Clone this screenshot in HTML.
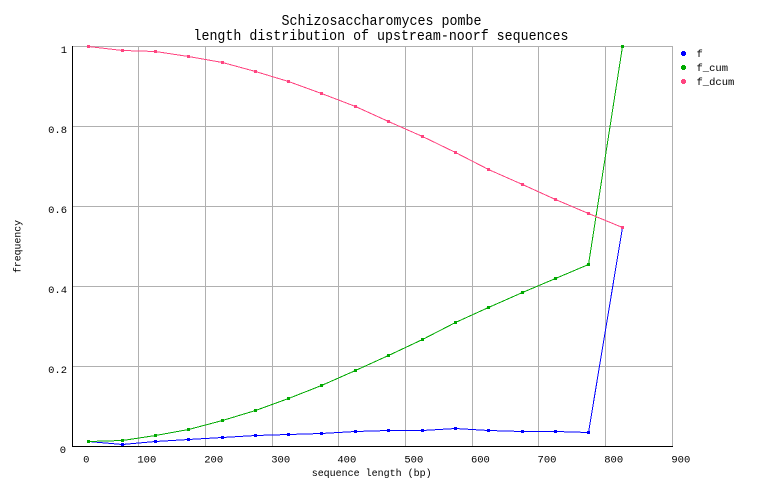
<!DOCTYPE html>
<html><head><meta charset="utf-8"><style>
html,body{margin:0;padding:0;background:#fff;}
svg{display:block;}
text{font-family:"Liberation Mono",monospace;fill:#000;}
</style></head><body>
<svg width="762" height="498" viewBox="0 0 762 498" xmlns="http://www.w3.org/2000/svg">
<rect width="762" height="498" fill="#fff"/>
<g shape-rendering="crispEdges" stroke="#b0b0b0" stroke-width="1" fill="none">
<line x1="72" y1="46.5" x2="673" y2="46.5"/>
<line x1="72" y1="126.5" x2="673" y2="126.5"/>
<line x1="72" y1="206.5" x2="673" y2="206.5"/>
<line x1="72" y1="286.5" x2="673" y2="286.5"/>
<line x1="72" y1="366.5" x2="673" y2="366.5"/>
<line x1="138.5" y1="46" x2="138.5" y2="446"/>
<line x1="205.5" y1="46" x2="205.5" y2="446"/>
<line x1="272.5" y1="46" x2="272.5" y2="446"/>
<line x1="338.5" y1="46" x2="338.5" y2="446"/>
<line x1="405.5" y1="46" x2="405.5" y2="446"/>
<line x1="472.5" y1="46" x2="472.5" y2="446"/>
<line x1="538.5" y1="46" x2="538.5" y2="446"/>
<line x1="605.5" y1="46" x2="605.5" y2="446"/>
<line x1="672.5" y1="46" x2="672.5" y2="447"/>
</g>
<g shape-rendering="crispEdges" stroke="#000" stroke-width="1">
<line x1="72.5" y1="46" x2="72.5" y2="447"/>
<line x1="72" y1="446.5" x2="673" y2="446.5"/>
</g>

<!-- f (blue) -->
<polyline shape-rendering="crispEdges" fill="none" stroke="#0000ff" stroke-width="1" points="88.5,441.5 122.5,444.5 155.5,441.5 188.5,439.5 222.5,437.5 255.5,435.5 288.5,434.5 321.5,433.5 355.5,431.5 388.5,430.5 422.5,430.5 455.5,428.5 488.5,430.5 522.5,431.5 555.5,431.5 588.5,432.5 622.5,227.5"/>
<g fill="#0000ff" shape-rendering="crispEdges">
<rect x="87" y="440" width="3" height="3"/><rect x="121" y="443" width="3" height="3"/><rect x="154" y="440" width="3" height="3"/><rect x="187" y="438" width="3" height="3"/><rect x="221" y="436" width="3" height="3"/><rect x="254" y="434" width="3" height="3"/><rect x="287" y="433" width="3" height="3"/><rect x="320" y="432" width="3" height="3"/><rect x="354" y="430" width="3" height="3"/><rect x="387" y="429" width="3" height="3"/><rect x="421" y="429" width="3" height="3"/><rect x="454" y="427" width="3" height="3"/><rect x="487" y="429" width="3" height="3"/><rect x="521" y="430" width="3" height="3"/><rect x="554" y="430" width="3" height="3"/><rect x="587" y="431" width="3" height="3"/><rect x="621" y="226" width="3" height="3"/>
</g>

<!-- f_cum (green) -->
<polyline shape-rendering="crispEdges" fill="none" stroke="#00aa00" stroke-width="1" points="88.5,441.5 122.5,440.5 155.5,435.5 188.5,429.5 222.5,420.5 255.5,410.5 288.5,398.5 321.5,385.5 355.5,370.5 388.5,355.5 422.5,339.5 455.5,322.5 488.5,307.5 522.5,292.5 555.5,278.5 588.5,264.5 622.5,46.5"/>
<g fill="#00aa00" shape-rendering="crispEdges">
<rect x="87" y="440" width="3" height="3"/><rect x="121" y="439" width="3" height="3"/><rect x="154" y="434" width="3" height="3"/><rect x="187" y="428" width="3" height="3"/><rect x="221" y="419" width="3" height="3"/><rect x="254" y="409" width="3" height="3"/><rect x="287" y="397" width="3" height="3"/><rect x="320" y="384" width="3" height="3"/><rect x="354" y="369" width="3" height="3"/><rect x="387" y="354" width="3" height="3"/><rect x="421" y="338" width="3" height="3"/><rect x="454" y="321" width="3" height="3"/><rect x="487" y="306" width="3" height="3"/><rect x="521" y="291" width="3" height="3"/><rect x="554" y="277" width="3" height="3"/><rect x="587" y="263" width="3" height="3"/><rect x="621" y="45" width="3" height="3"/>
</g>

<!-- f_dcum (pink) -->
<polyline shape-rendering="crispEdges" fill="none" stroke="#ff4480" stroke-width="1" points="88.5,46.5 122.5,50.5 155.5,51.5 188.5,56.5 222.5,62.5 255.5,71.5 288.5,81.5 321.5,93.5 355.5,106.5 388.5,121.5 422.5,136.5 455.5,152.5 488.5,169.5 522.5,184.5 555.5,199.5 588.5,213.5 622.5,227.5"/>
<g fill="#ff4480" shape-rendering="crispEdges">
<rect x="87" y="45" width="3" height="3"/><rect x="121" y="49" width="3" height="3"/><rect x="154" y="50" width="3" height="3"/><rect x="187" y="55" width="3" height="3"/><rect x="221" y="61" width="3" height="3"/><rect x="254" y="70" width="3" height="3"/><rect x="287" y="80" width="3" height="3"/><rect x="320" y="92" width="3" height="3"/><rect x="354" y="105" width="3" height="3"/><rect x="387" y="120" width="3" height="3"/><rect x="421" y="135" width="3" height="3"/><rect x="454" y="151" width="3" height="3"/><rect x="487" y="168" width="3" height="3"/><rect x="521" y="183" width="3" height="3"/><rect x="554" y="198" width="3" height="3"/><rect x="587" y="212" width="3" height="3"/><rect x="621" y="226" width="3" height="3"/>
</g>

<!-- title -->
<text x="381.5" y="25" font-size="15" text-anchor="middle" textLength="200" lengthAdjust="spacingAndGlyphs">Schizosaccharomyces pombe</text>
<text x="381" y="40" font-size="15" text-anchor="middle" textLength="375" lengthAdjust="spacingAndGlyphs">length distribution of upstream-noorf sequences</text>

<!-- y tick labels -->
<g font-size="10.5" text-anchor="end">
<text x="67" y="53">1</text>
<text x="67" y="133">0.8</text>
<text x="67" y="213">0.6</text>
<text x="67" y="293">0.4</text>
<text x="67" y="373">0.2</text>
<text x="66" y="453">0</text>
</g>

<!-- x tick labels -->
<g font-size="10.5" text-anchor="middle">
<text x="86.3" y="462.5">0</text>
<text x="146.8" y="462.5">100</text>
<text x="213.7" y="462.5">200</text>
<text x="280.7" y="462.5">300</text>
<text x="346.8" y="462.5">400</text>
<text x="413.8" y="462.5">500</text>
<text x="480.4" y="462.5">600</text>
<text x="547" y="462.5">700</text>
<text x="613.7" y="462.5">800</text>
<text x="680.8" y="462.5">900</text>
</g>

<!-- axis labels -->
<text x="311.7" y="476" font-size="10.5" textLength="120" lengthAdjust="spacingAndGlyphs">sequence length (bp)</text>
<text transform="translate(20.5,246.5) rotate(-90)" font-size="10.5" text-anchor="middle" textLength="53" lengthAdjust="spacingAndGlyphs">frequency</text>

<!-- legend -->
<g shape-rendering="crispEdges">
<rect x="681" y="52" width="5" height="3" fill="#0000ff"/><rect x="682" y="51" width="3" height="5" fill="#0000ff"/>
<rect x="681" y="66" width="5" height="3" fill="#00aa00"/><rect x="682" y="65" width="3" height="5" fill="#00aa00"/>
<rect x="681" y="80" width="5" height="3" fill="#ff4480"/><rect x="682" y="79" width="3" height="5" fill="#ff4480"/>
</g>
<g font-size="10.5">
<text x="696.5" y="57">f</text>
<text x="696.5" y="71">f_cum</text>
<text x="696.5" y="85">f_dcum</text>
</g>
</svg>
</body></html>
